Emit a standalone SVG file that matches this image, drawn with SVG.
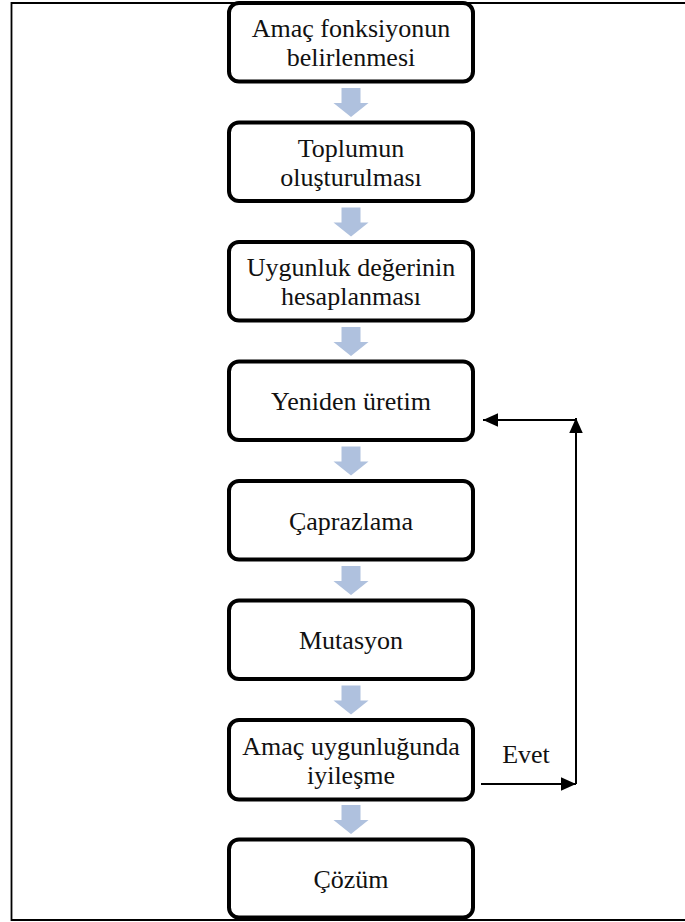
<svg xmlns="http://www.w3.org/2000/svg" width="685" height="922" viewBox="0 0 685 922">
  <style>
    .box { fill: #ffffff; stroke: #000000; stroke-width: 4; }
    .lbl { font-family: "Liberation Serif", "Times New Roman", serif; font-size: 26px; fill: #111111; text-anchor: middle; }
    .flow { fill: #AFC1DE; }
    .line { fill: none; stroke: #000000; stroke-width: 2; }
    .frame { fill: none; stroke: #000000; stroke-width: 1.8; }
  </style>
  <defs>
    <marker id="head" viewBox="0 0 10 10" refX="10" refY="5" markerWidth="8" markerHeight="8" markerUnits="userSpaceOnUse" orient="auto">
      <path d="M0,0 L10,5 L0,10 Z" fill="#000"/>
    </marker>
    <marker id="headL" viewBox="0 0 10 10" refX="10" refY="5" markerWidth="15" markerHeight="15" markerUnits="userSpaceOnUse" orient="auto">
      <path d="M0,0.5 L10,5 L0,9.5 Z" fill="#000"/>
    </marker>
    <path id="down" d="M-9.5,0 H9.5 V15 H17.5 L0,29 L-17.5,15 H-9.5 Z"/>
  </defs>

  <rect width="685" height="922" fill="#ffffff"/>

  <!-- page frame (open on the right) -->
  <path class="frame" d="M685,3 H11.5 V920 H685"/>

  <!-- connectors -->
  <g id="connectors">
    <use href="#down" class="flow" x="351" y="88"/>
    <use href="#down" class="flow" x="351" y="207.5"/>
    <use href="#down" class="flow" x="351" y="327"/>
    <use href="#down" class="flow" x="351" y="446.5"/>
    <use href="#down" class="flow" x="351" y="566"/>
    <use href="#down" class="flow" x="351" y="685.5"/>
    <use href="#down" class="flow" x="351" y="805"/>

    <!-- feedback loop: Evet back to Yeniden üretim -->
    <path class="line" d="M481,784 H576" marker-end="url(#headL)"/>
    <path class="line" d="M576,784 V418" marker-end="url(#headL)"/>
    <path class="line" d="M577,420 H483" marker-end="url(#headL)"/>
    <text class="lbl" x="526" y="763">Evet</text>
  </g>

  <g id="n1">
    <rect class="box" x="229" y="3" width="244" height="78.5" rx="10"/>
    <text class="lbl" x="351" y="37">Amaç fonksiyonun</text>
    <text class="lbl" x="351" y="66">belirlenmesi</text>
  </g>
  <g id="n2">
    <rect class="box" x="229" y="122.5" width="244" height="78.5" rx="10"/>
    <text class="lbl" x="351" y="156.5">Toplumun</text>
    <text class="lbl" x="351" y="185.5">oluşturulması</text>
  </g>
  <g id="n3">
    <rect class="box" x="229" y="242" width="244" height="78.5" rx="10"/>
    <text class="lbl" x="351" y="276">Uygunluk değerinin</text>
    <text class="lbl" x="351" y="305">hesaplanması</text>
  </g>
  <g id="n4">
    <rect class="box" x="229" y="361.5" width="244" height="78.5" rx="10"/>
    <text class="lbl" x="351" y="410">Yeniden üretim</text>
  </g>
  <g id="n5">
    <rect class="box" x="229" y="481" width="244" height="78.5" rx="10"/>
    <text class="lbl" x="351" y="529.5">Çaprazlama</text>
  </g>
  <g id="n6">
    <rect class="box" x="229" y="600.5" width="244" height="78.5" rx="10"/>
    <text class="lbl" x="351" y="649">Mutasyon</text>
  </g>
  <g id="n7">
    <rect class="box" x="229" y="720" width="244" height="79.5" rx="10"/>
    <text class="lbl" x="351" y="755">Amaç uygunluğunda</text>
    <text class="lbl" x="351" y="784">iyileşme</text>
  </g>
  <g id="n8">
    <rect class="box" x="229" y="839.5" width="244" height="78" rx="10"/>
    <text class="lbl" x="351" y="888">Çözüm</text>
  </g>
</svg>
